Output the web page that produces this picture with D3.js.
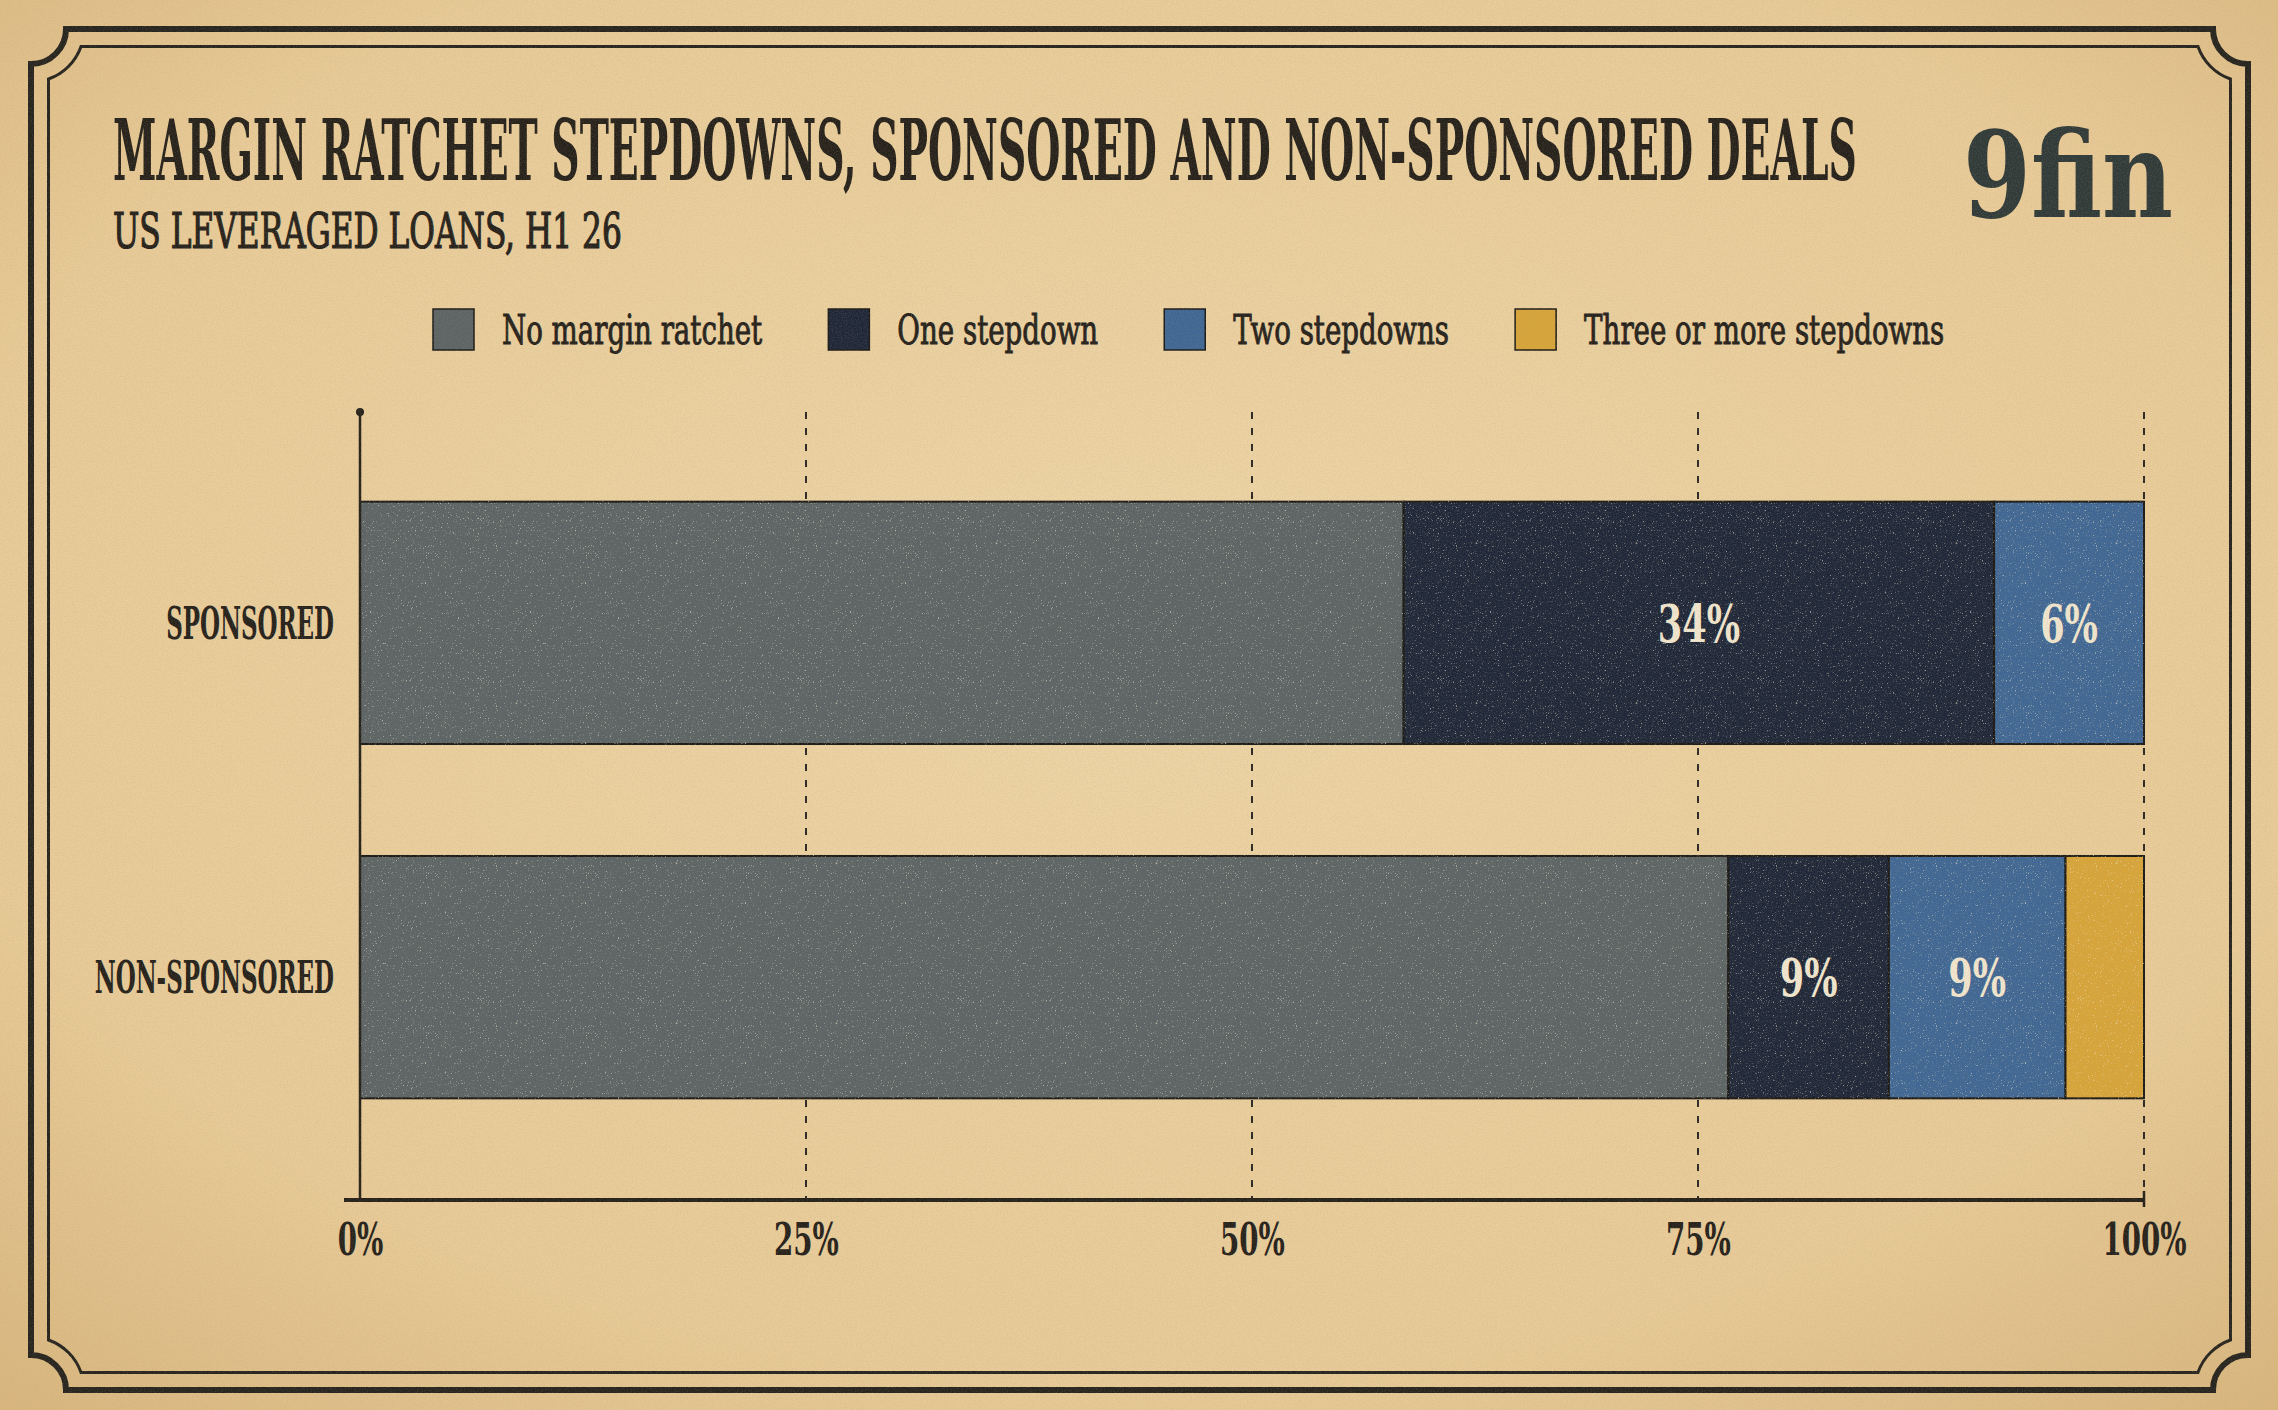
<!DOCTYPE html>
<html>
<head>
<meta charset="utf-8">
<script src="https://cdn.jsdelivr.net/npm/d3@7"></script>
<style>
    html, body { margin: 0; padding: 0; background: #e6c999; }
    #chart { width: 2278px; height: 1410px; }
    text { font-family: "DejaVu Serif Condensed", "DejaVu Serif", serif; font-stretch: condensed; }
</style>
</head>
<body>
<div id="chart"></div>
<script>
// DATA
const categories = ["SPONSORED", "NON-SPONSORED"];
const series = ["No margin ratchet", "One stepdown", "Two stepdowns", "Three or more stepdowns"];
const noMarginRatchet = [58.5, 76.7];
const oneStepdown = [33.1, 9.0];
const twoStepdowns = [8.4, 9.9];
const threeOrMore = [0, 4.4];
const oneStepdownLabels = ["34%", "9%"];
const twoStepdownLabels = ["6%", "9%"];
const xTicks = [0, 25, 50, 75, 100];

const width = 2278;
const height = 1410;
const plot = {left: 360, right: 2144, top: 412, bottom: 1200};
const ink = "#25211b";

const colors = d3.scaleOrdinal()
    .domain(series)
    .range(["#5c6466", "#1e2739", "#3f6795", "#d7a53a"]);

const rows = categories.map(function(c, i) {
    return {
        category: c,
        "No margin ratchet": noMarginRatchet[i],
        "One stepdown": oneStepdown[i],
        "Two stepdowns": twoStepdowns[i],
        "Three or more stepdowns": threeOrMore[i],
        labels: ["", oneStepdownLabels[i], twoStepdownLabels[i], ""]
    };
});

const stacked = d3.stack().keys(series)(rows);

// squeeze text horizontally so it reads like a condensed wood type
function condense(sel, factor) {
    sel.each(function() {
        const t = d3.select(this);
        const x = +t.attr("x") || 0;
        const y = +t.attr("y") || 0;
        t.attr("x", 0).attr("y", 0)
            .attr("transform", `translate(${x},${y}) scale(${factor},1)`);
    });
}

function fitWidth(sel, target) {
    sel.each(function() {
        const w = this.getComputedTextLength();
        d3.select(this).call(condense, target / w);
    });
}

// Canvas
const svg = d3.select("#chart")
    .append("svg")
    .attr("width", width)
    .attr("height", height);

const defs = svg.append("defs");

const paper = defs.append("radialGradient")
    .attr("id", "paper")
    .attr("cx", "50%").attr("cy", "45%").attr("r", "75%");
paper.append("stop").attr("offset", "0%").attr("stop-color", "#eed6a8");
paper.append("stop").attr("offset", "70%").attr("stop-color", "#e8cb98");
paper.append("stop").attr("offset", "100%").attr("stop-color", "#d8b57d");

const grain = defs.append("filter")
    .attr("id", "grain")
    .attr("x", 0).attr("y", 0).attr("width", "100%").attr("height", "100%");
grain.append("feTurbulence")
    .attr("type", "fractalNoise")
    .attr("baseFrequency", 0.8)
    .attr("numOctaves", 3)
    .attr("seed", 7);
grain.append("feColorMatrix")
    .attr("type", "matrix")
    .attr("values", "0 0 0 0 0.45  0 0 0 0 0.33  0 0 0 0 0.18  0 0 0 1.4 -0.55");

const specks = defs.append("filter")
    .attr("id", "specks")
    .attr("x", 0).attr("y", 0).attr("width", "100%").attr("height", "100%");
specks.append("feTurbulence")
    .attr("type", "fractalNoise")
    .attr("baseFrequency", 1.6)
    .attr("numOctaves", 2)
    .attr("seed", 3);
specks.append("feColorMatrix")
    .attr("type", "matrix")
    .attr("values", "0 0 0 0 0.92  0 0 0 0 0.85  0 0 0 0 0.68  0 0 0 6 -3.9");

svg.append("rect")
    .attr("width", width)
    .attr("height", height)
    .attr("fill", "url(#paper)");

// Scales
const xScale = d3.scaleLinear()
    .domain([0, 100])
    .range([plot.left, plot.right]);

const yScale = d3.scaleBand()
    .domain(categories)
    .range([406, 1194])
    .paddingInner(0.316)
    .paddingOuter(0.27);

// Grid
svg.append("g")
    .selectAll("line")
    .data(xTicks.filter(function(d) { return d > 0; }))
    .enter()
    .append("line")
        .attr("x1", function(d) { return xScale(d); })
        .attr("x2", function(d) { return xScale(d); })
        .attr("y1", plot.top)
        .attr("y2", plot.bottom)
        .attr("stroke", "#2b2823")
        .attr("stroke-width", 2)
        .attr("stroke-dasharray", "7,9");

// Marks
const barGroups = svg.append("g")
    .selectAll("g")
    .data(stacked)
    .enter()
    .append("g")
        .attr("fill", function(d) { return colors(d.key); });

barGroups.selectAll("rect")
    .data(function(d) { return d; })
    .enter()
    .append("rect")
        .attr("x", function(d) { return xScale(d[0]); })
        .attr("y", function(d) { return yScale(d.data.category); })
        .attr("width", function(d) { return xScale(d[1]) - xScale(d[0]); })
        .attr("height", yScale.bandwidth())
        .attr("stroke", "#1b1a17")
        .attr("stroke-width", 2)
        .style("display", function(d) { return d[1] - d[0] > 0 ? null : "none"; });

// light specks on the ink
svg.append("g")
    .selectAll("rect")
    .data(categories)
    .enter()
    .append("rect")
        .attr("x", plot.left)
        .attr("y", function(d) { return yScale(d); })
        .attr("width", plot.right - plot.left)
        .attr("height", yScale.bandwidth())
        .attr("filter", "url(#specks)")
        .attr("opacity", 0.55);

// Value labels
barGroups.selectAll("text")
    .data(function(d, i) { return d.map(function(p) { return {p: p, label: p.data.labels[i]}; }); })
    .enter()
    .append("text")
        .attr("x", function(d) { return xScale((d.p[0] + d.p[1]) / 2); })
        .attr("y", function(d) { return yScale(d.p.data.category) + yScale.bandwidth() / 2 + 19; })
        .attr("text-anchor", "middle")
        .attr("font-size", 52)
        .attr("font-weight", "bold")
        .attr("fill", "#f1e6cf")
        .text(function(d) { return d.label; })
        .call(condense, 0.75);

// Axes
svg.append("line")
    .attr("x1", plot.left).attr("x2", plot.left)
    .attr("y1", plot.top).attr("y2", plot.bottom)
    .attr("stroke", ink)
    .attr("stroke-width", 2.5);

svg.append("circle")
    .attr("cx", plot.left).attr("cy", plot.top)
    .attr("r", 4)
    .attr("fill", ink);

svg.append("line")
    .attr("x1", plot.left - 16).attr("x2", plot.right)
    .attr("y1", plot.bottom).attr("y2", plot.bottom)
    .attr("stroke", ink)
    .attr("stroke-width", 4);

svg.append("line")
    .attr("x1", plot.right).attr("x2", plot.right)
    .attr("y1", plot.bottom - 9).attr("y2", plot.bottom + 7)
    .attr("stroke", ink)
    .attr("stroke-width", 2.5);

const xAxis = svg.append("g")
    .attr("transform", `translate(0,${plot.bottom})`)
    .attr("font-family", null)
    .attr("font-size", null)
    .call(d3.axisBottom(xScale)
        .tickValues(xTicks)
        .tickSize(0)
        .tickPadding(0)
        .tickFormat(function(d) { return d + "%"; }));

xAxis.select(".domain").remove();
xAxis.selectAll("text")
    .attr("dy", null)
    .attr("y", 55)
    .attr("font-size", 44)
    .attr("font-weight", "bold")
    .attr("fill", ink)
    .call(condense, 0.7);

// Category labels
svg.append("g")
    .selectAll("text")
    .data(categories)
    .enter()
    .append("text")
        .attr("x", 334)
        .attr("y", function(d) { return yScale(d) + yScale.bandwidth() / 2 + 16; })
        .attr("text-anchor", "end")
        .attr("font-size", 44)
        .attr("font-weight", "bold")
        .attr("fill", ink)
        .text(function(d) { return d; })
        .call(condense, 0.58);

// Title block
svg.append("text")
    .attr("x", 113)
    .attr("y", 180)
    .attr("font-size", 85)
    .attr("font-weight", "bold")
    .attr("fill", ink)
    .text("MARGIN RATCHET STEPDOWNS, SPONSORED AND NON-SPONSORED DEALS")
    .call(fitWidth, 1744);

svg.append("text")
    .attr("x", 113)
    .attr("y", 248)
    .attr("font-size", 48)
    .attr("fill", ink)
    .attr("stroke", ink)
    .attr("stroke-width", 1.2)
    .text("US LEVERAGED LOANS, H1 26")
    .call(fitWidth, 509);

svg.append("text")
    .attr("x", 1963)
    .attr("y", 217)
    .attr("font-size", 120)
    .attr("font-weight", "bold")
    .attr("fill", "#2f3a39")
    .style("font-family", "'DejaVu Serif', serif")
    .style("font-stretch", "normal")
    .text("9fin")
    .call(fitWidth, 210);

// Legend
const legend = svg.append("g");
let lx = 433;
series.forEach(function(s) {
    legend.append("rect")
        .attr("x", lx)
        .attr("y", 309)
        .attr("width", 41)
        .attr("height", 41)
        .attr("fill", colors(s))
        .attr("stroke", "#1b1a17")
        .attr("stroke-width", 1.5);
    const t = legend.append("text")
        .attr("x", lx + 69)
        .attr("y", 344)
        .attr("font-size", 41)
        .attr("fill", ink)
        .attr("stroke", ink)
        .attr("stroke-width", 0.9)
        .text(s);
    const w = t.node().getComputedTextLength() * 0.75;
    t.call(condense, 0.75);
    lx = lx + 69 + w + 66;
});

// Frame
function notched(L, T, R, B, d, r) {
    const a = Math.sqrt(r * r - d * d);
    return `M${L + a},${T + d} H${R - a} A${r},${r} 0 0 0 ${R - d},${T + a}` +
        ` V${B - a} A${r},${r} 0 0 0 ${R - a},${B - d}` +
        ` H${L + a} A${r},${r} 0 0 0 ${L + d},${B - a}` +
        ` V${T + a} A${r},${r} 0 0 0 ${L + a},${T + d} Z`;
}

svg.append("path")
    .attr("d", notched(31, 29, 2248, 1390, 0, 35))
    .attr("fill", "none")
    .attr("stroke", "#26241f")
    .attr("stroke-width", 6);

svg.append("path")
    .attr("d", notched(31, 29, 2248, 1390, 17.5, 53))
    .attr("fill", "none")
    .attr("stroke", "#26241f")
    .attr("stroke-width", 3);

// Paper grain over everything
svg.append("rect")
    .attr("width", width)
    .attr("height", height)
    .attr("filter", "url(#grain)")
    .attr("opacity", 0.3)
    .style("pointer-events", "none");
</script>
</body>
</html>
